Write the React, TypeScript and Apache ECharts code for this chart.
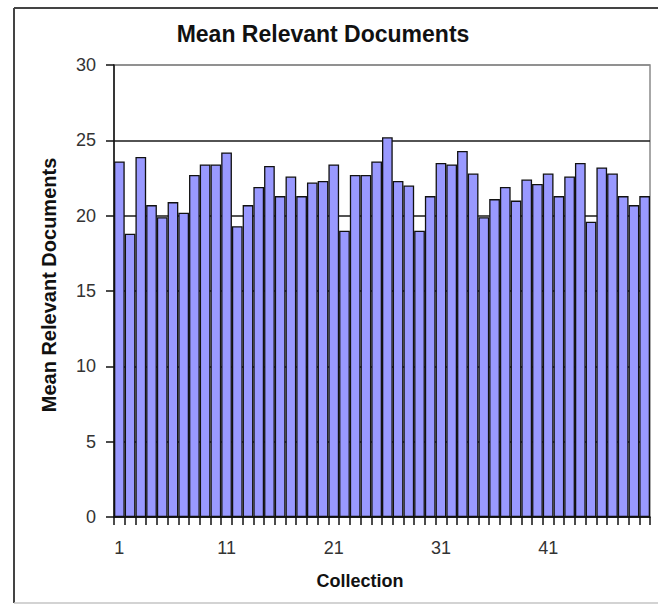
import React, { useEffect, useRef } from "react";
import * as echarts from "echarts";

// Collection numbers 1..50
const collections: string[] = [
  "1", "2", "3", "4", "5", "6", "7", "8", "9", "10",
  "11", "12", "13", "14", "15", "16", "17", "18", "19", "20",
  "21", "22", "23", "24", "25", "26", "27", "28", "29", "30",
  "31", "32", "33", "34", "35", "36", "37", "38", "39", "40",
  "41", "42", "43", "44", "45", "46", "47", "48", "49", "50",
];

// Mean number of relevant documents per collection
const meanRelevant: number[] = [
  23.6, 18.8, 23.9, 20.7, 19.9, 20.9, 20.2, 22.7, 23.4, 23.4,
  24.2, 19.3, 20.7, 21.9, 23.3, 21.3, 22.6, 21.3, 22.2, 22.3,
  23.4, 19.0, 22.7, 22.7, 23.6, 25.2, 22.3, 22.0, 19.0, 21.3,
  23.5, 23.4, 24.3, 22.8, 19.9, 21.1, 21.9, 21.0, 22.4, 22.1,
  22.8, 21.3, 22.6, 23.5, 19.6, 23.2, 22.8, 21.3, 20.7, 21.3,
];

const yMin = 0;
const yMax = 30;
const yStep = 5;

const titleText = "Mean Relevant Documents";
const yAxisTitle = "Mean Relevant Documents";
const xAxisTitle = "Collection";

const FONT = "'Liberation Sans', Arial, sans-serif";

// gridlines at 0..25 are dark, the one at the top (30) matches the plot border
const gridColors = ["#1a1a1a", "#1a1a1a", "#1a1a1a", "#1a1a1a", "#1a1a1a", "#1a1a1a", "#8a8a8a"];

export default function App() {
  const ref = useRef<HTMLDivElement>(null);

  useEffect(() => {
    if (!ref.current) return;
    const chart = echarts.init(ref.current, null, { renderer: "svg" });
    chart.setOption({
      animation: false,
      backgroundColor: "#ffffff",
      textStyle: { fontFamily: FONT },
      grid: {
        left: 114,
        right: 8,
        top: 65,
        bottom: 88,
        containLabel: false,
        show: true,
        borderColor: "#8a8a8a",
        borderWidth: 1.5,
        backgroundColor: "#ffffff",
      },
      xAxis: {
        type: "category",
        data: collections,
        boundaryGap: true,
        axisLine: { show: true, lineStyle: { color: "#111", width: 1.5 } },
        axisTick: {
          show: true,
          interval: 0,
          alignWithLabel: false,
          length: 8,
          lineStyle: { color: "#111", width: 1.5 },
        },
        axisLabel: {
          interval: 9,
          margin: 22,
          fontSize: 18,
          color: "#333",
          fontFamily: FONT,
        },
        splitLine: { show: false },
      },
      yAxis: {
        type: "value",
        min: yMin,
        max: yMax,
        interval: yStep,
        axisLine: { show: true, lineStyle: { color: "#111", width: 1.5 } },
        axisTick: { show: true, length: 8, lineStyle: { color: "#111", width: 1.5 } },
        axisLabel: {
          margin: 18,
          fontSize: 18,
          color: "#333",
          fontFamily: FONT,
        },
        splitLine: {
          show: true,
          lineStyle: { color: gridColors, width: 1.5 },
        },
      },
      series: [
        {
          type: "bar",
          data: meanRelevant,
          barCategoryGap: "0%",
          itemStyle: {
            color: "#9999ff",
            borderColor: "#111",
            borderWidth: 1.3,
          },
        },
      ],
      graphic: [
        // chart frame
        {
          type: "line",
          shape: { x1: 14, y1: 8, x2: 658, y2: 8 },
          style: { stroke: "#444", lineWidth: 2 },
        },
        {
          type: "line",
          shape: { x1: 14, y1: 8, x2: 14, y2: 603 },
          style: { stroke: "#444", lineWidth: 2 },
        },
        {
          type: "line",
          shape: { x1: 14, y1: 603, x2: 658, y2: 603 },
          style: { stroke: "#c4c4c4", lineWidth: 1.5 },
        },
        {
          type: "text",
          x: 323,
          y: 34,
          style: {
            text: titleText,
            font: `bold 23px ${FONT}`,
            fill: "#111",
            textAlign: "center",
            textVerticalAlign: "middle",
          },
        },
        {
          type: "text",
          x: 49,
          y: 285,
          rotation: Math.PI / 2,
          style: {
            text: yAxisTitle,
            font: `bold 20px ${FONT}`,
            fill: "#111",
            textAlign: "center",
            textVerticalAlign: "middle",
          },
        },
        {
          type: "text",
          x: 360,
          y: 581,
          style: {
            text: xAxisTitle,
            font: `bold 18px ${FONT}`,
            fill: "#111",
            textAlign: "center",
            textVerticalAlign: "middle",
          },
        },
      ],
    });
    return () => {
      chart.dispose();
    };
  }, []);

  return (
    <div
      ref={ref}
      style={{ position: "absolute", left: 0, top: 0, width: 658, height: 605 }}
    />
  );
}
